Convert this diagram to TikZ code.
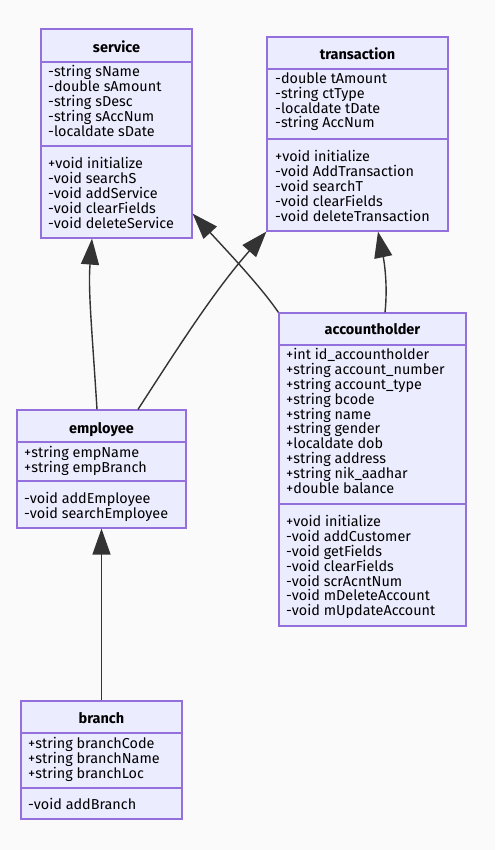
\documentclass[tikz,border=0pt]{standalone}
\usepackage{fontspec}
\setmainfont{Fira Sans}
\usetikzlibrary{arrows.meta}
\definecolor{bgcol}{HTML}{FAFAFA}
\definecolor{clsfill}{HTML}{ECECFF}
\definecolor{clsborder}{HTML}{9370DB}
\definecolor{edgecol}{HTML}{333333}

\begin{document}
\begin{tikzpicture}[
  x=1pt, y=-1pt,
  box/.style={draw=clsborder, fill=clsfill, line width=1.2pt, inner sep=0pt},
  divider/.style={draw=clsborder, line width=1.2pt},
  title/.style={font=\fontsize{14.5}{15}\selectfont\bfseries, inner sep=0pt,
                text height=11pt, text depth=0pt},
  members/.style={font=\fontsize{14.4}{14.8}\selectfont, align=left,
                  anchor=north west, inner sep=0pt},
  arrow/.style={-{Triangle[length=26pt, width=18pt]}, color=edgecol, line width=1.4pt}
]
\fill[bgcol] (0,0) rectangle (495,850);
\useasboundingbox (0,0) rectangle (495,850);

% classes
\node[box, minimum width=151pt, minimum height=209pt] (service) at (116.5,133.5) {};
\draw[divider] (service.west |- 0,62) -- (service.east |- 0,62);
\draw[divider] (service.west |- 0,146) -- (service.east |- 0,146);
\node[title] (serviceT) at (116.5,47) {service};
\node[members] (serviceA) at (48,65.5) {-string sName\\-double sAmount\\-string sDesc\\-string sAccNum\\-localdate sDate};
\node[members] (serviceM) at (48,157.5) {+void initialize\\-void searchS\\-void addService\\-void clearFields\\-void deleteService};

\node[box, minimum width=181pt, minimum height=194pt] (transaction) at (357.5,134) {};
\draw[divider] (transaction.west |- 0,69) -- (transaction.east |- 0,69);
\draw[divider] (transaction.west |- 0,139) -- (transaction.east |- 0,139);
\node[title] (transactionT) at (357.5,54) {transaction};
\node[members] (transactionA) at (275,72.5) {-double tAmount\\-string ctType\\-localdate tDate\\-string AccNum};
\node[members] (transactionM) at (275,150.5) {+void initialize\\-void AddTransaction\\-void searchT\\-void clearFields\\-void deleteTransaction};

\node[box, minimum width=187pt, minimum height=313pt] (accountholder) at (372.5,469.5) {};
\draw[divider] (accountholder.west |- 0,345) -- (accountholder.east |- 0,345);
\draw[divider] (accountholder.west |- 0,504) -- (accountholder.east |- 0,504);
\node[title] (accountholderT) at (372.5,329) {accountholder};
\node[members] (accountholderA) at (286,348.5) {+int id\_accountholder\\+string account\_number\\+string account\_type\\+string bcode\\+string name\\+string gender\\+localdate dob\\+string address\\+string nik\_aadhar\\+double balance};
\node[members] (accountholderM) at (286,515.5) {+void initialize\\-void addCustomer\\-void getFields\\-void clearFields\\-void scrAcntNum\\-void mDeleteAccount\\-void mUpdateAccount};

\node[box, minimum width=169pt, minimum height=118pt] (employee) at (101.5,469) {};
\draw[divider] (employee.west |- 0,442) -- (employee.east |- 0,442);
\draw[divider] (employee.west |- 0,481) -- (employee.east |- 0,481);
\node[title] (employeeT) at (101.5,428) {employee};
\node[members] (employeeA) at (24,446.5) {+string empName\\+string empBranch};
\node[members] (employeeM) at (24,492.5) {-void addEmployee\\-void searchEmployee};

\node[box, minimum width=161pt, minimum height=118pt] (branch) at (101.5,760) {};
\draw[divider] (branch.west |- 0,733) -- (branch.east |- 0,733);
\draw[divider] (branch.west |- 0,788) -- (branch.east |- 0,788);
\node[title] (branchT) at (101.5,718) {branch};
\node[members] (branchA) at (28,737.5) {+string branchCode\\+string branchName\\+string branchLoc};
\node[members] (branchM) at (28,798.5) {-void addBranch};

% inheritance
\draw[arrow] ([xshift=-4.5pt]employee.north) .. controls +(-5,-80) and +(-4,52) .. ([xshift=-24.5pt]service.south);
\draw[arrow] ([xshift=36.5pt]employee.north) .. controls +(42,-65) and +(-52,59) .. (transaction.south west);
\draw[arrow] (accountholder.north west) .. controls +(-17,-25) and +(36,39) .. ([yshift=25pt]service.south east);
\draw[arrow] ([xshift=12.5pt]accountholder.north) .. controls +(3,-28) and +(6,29) .. ([xshift=20.5pt]transaction.south);
\draw[arrow] (branch.north) -- (employee.south);
\end{tikzpicture}
\end{document}
